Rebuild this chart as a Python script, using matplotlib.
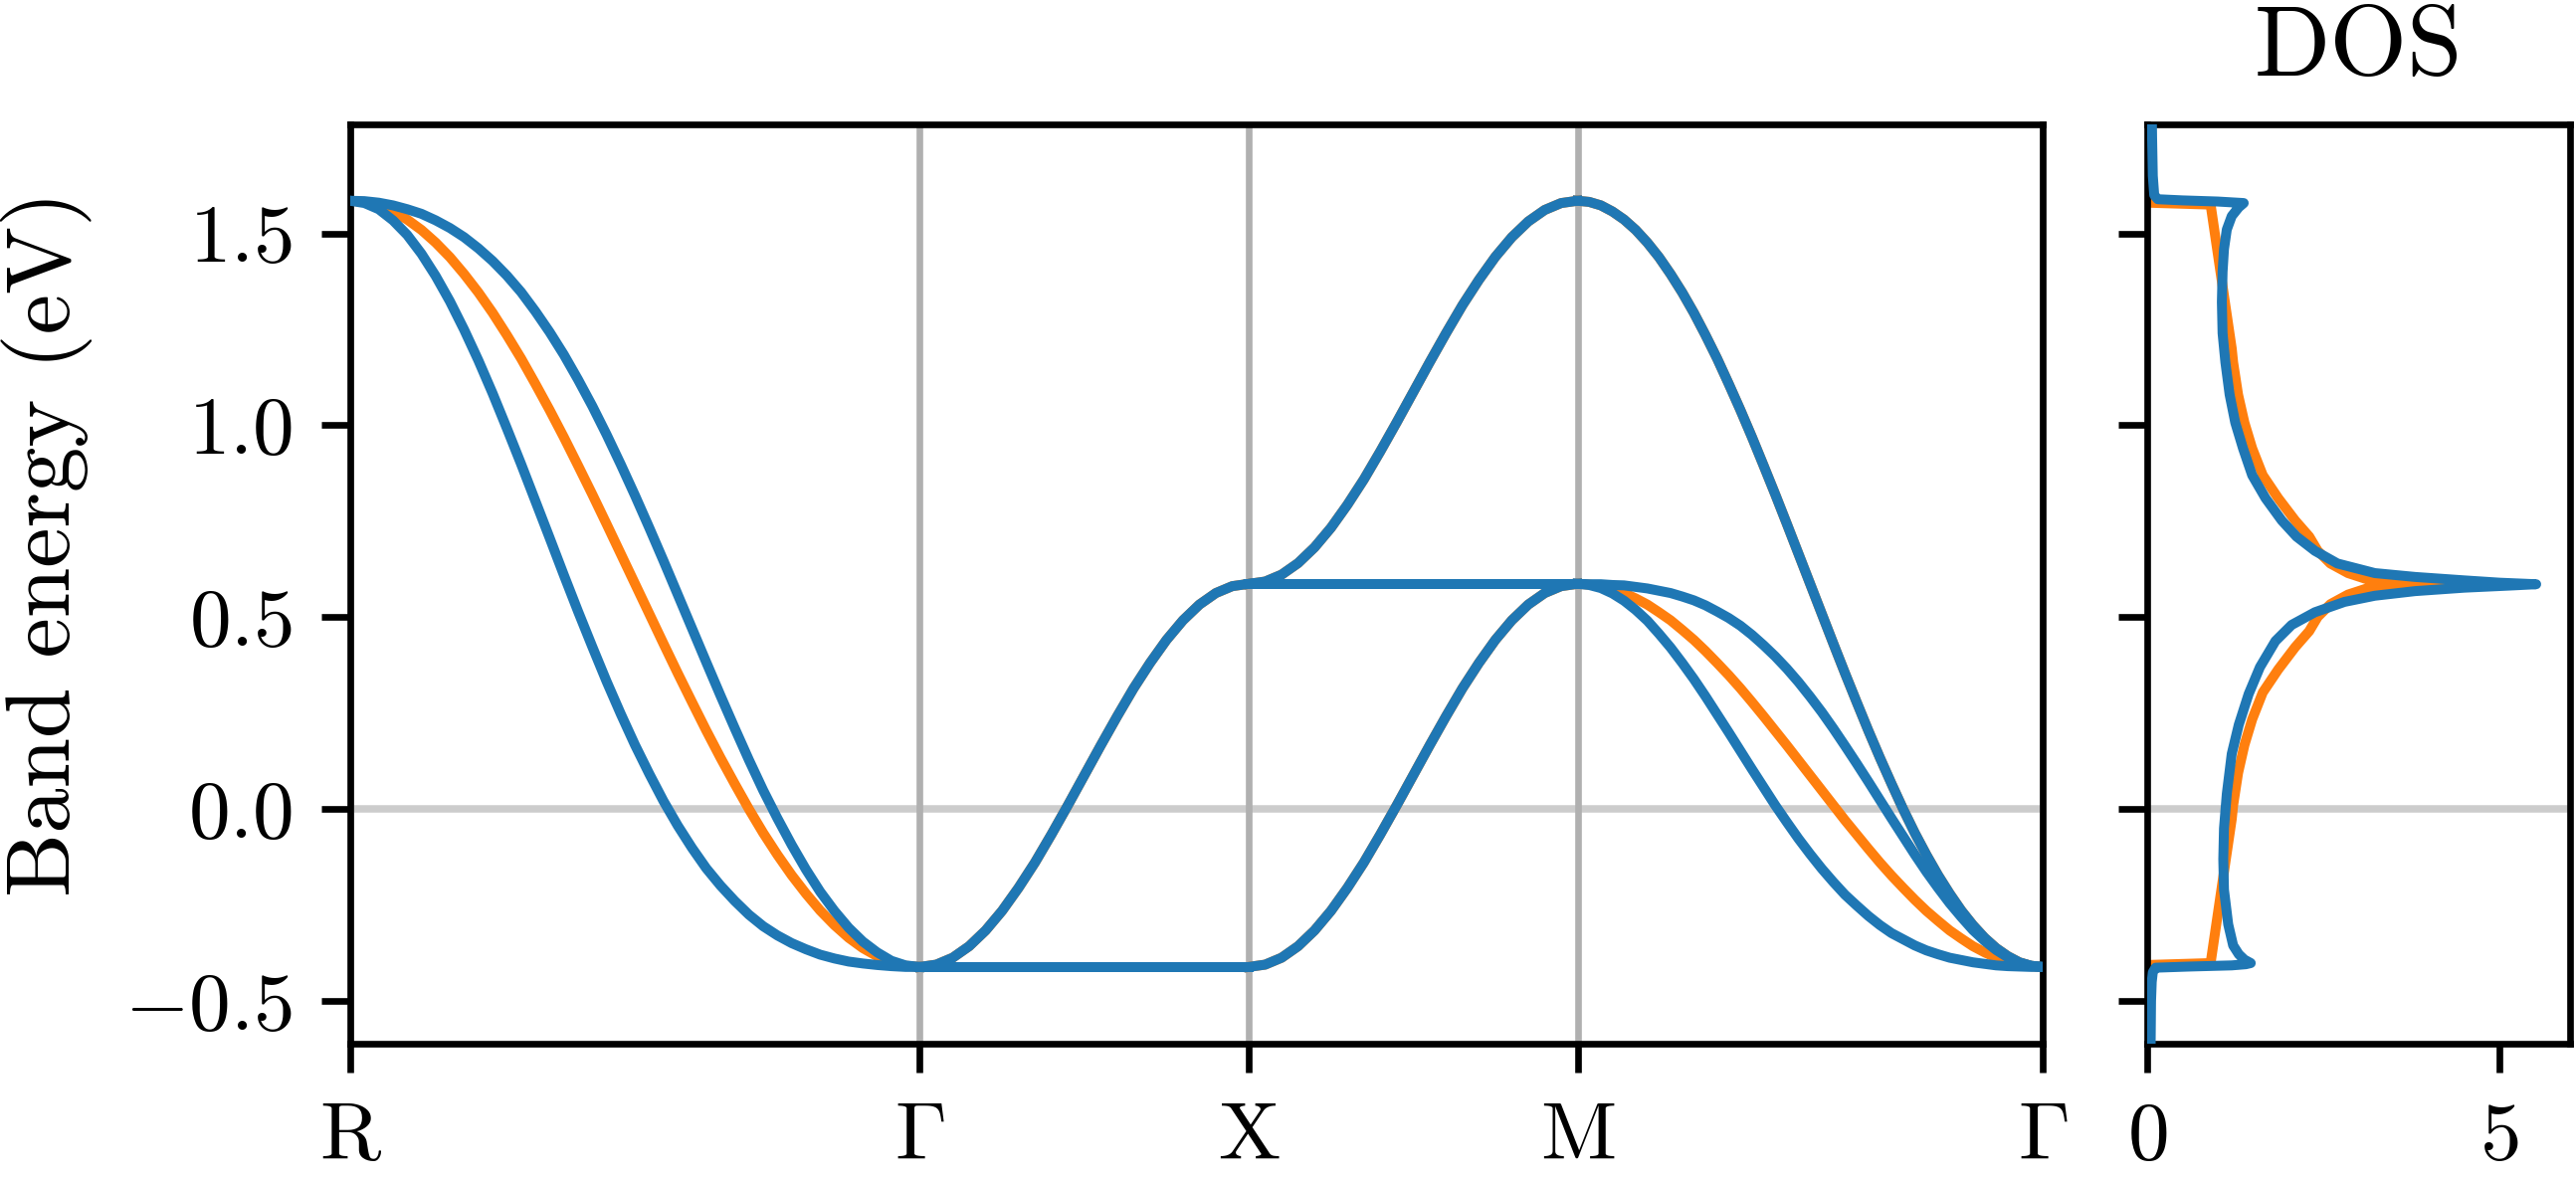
import numpy as np
import matplotlib
matplotlib.use("Agg")
import matplotlib.pyplot as plt

# ---------------- data ----------------
kpoint_labels = [r"$\mathrm{R}$", r"$\Gamma$", r"$\mathrm{X}$", r"$\mathrm{M}$", r"$\Gamma$"]
kpoint_pos = [0.0, 5.441, 8.583, 11.724, 16.167]

# R -> Gamma (41 samples, evenly spaced along the segment)
rg_orange = [1.585, 1.582, 1.573, 1.557, 1.536, 1.509, 1.476, 1.438, 1.394, 1.346,
             1.293, 1.235, 1.174, 1.108, 1.040, 0.969, 0.895, 0.820, 0.743, 0.665,
             0.587, 0.509, 0.431, 0.354, 0.279, 0.205, 0.134, 0.066, 0.000, -0.062,
             -0.119, -0.172, -0.220, -0.264, -0.302, -0.335, -0.362, -0.383, -0.399, -0.408,
             -0.411]
rg_blue_up = [1.585, 1.584, 1.580, 1.573, 1.563, 1.551, 1.534, 1.514, 1.490, 1.461,
              1.428, 1.390, 1.347, 1.297, 1.243, 1.184, 1.119, 1.050, 0.976, 0.898,
              0.817, 0.733, 0.647, 0.559, 0.471, 0.383, 0.296, 0.211, 0.128, 0.049,
              -0.024, -0.093, -0.157, -0.215, -0.265, -0.309, -0.345, -0.373, -0.395, -0.407,
              -0.411]
rg_blue_lo = [1.585, 1.579, 1.563, 1.534, 1.496, 1.447, 1.389, 1.323, 1.249, 1.169,
              1.083, 0.992, 0.899, 0.803, 0.707, 0.610, 0.515, 0.423, 0.333, 0.248,
              0.167, 0.092, 0.021, -0.043, -0.101, -0.154, -0.199, -0.239, -0.275, -0.305,
              -0.329, -0.349, -0.365, -0.379, -0.389, -0.397, -0.402, -0.406, -0.409, -0.411,
              -0.411]

# Gamma -> X (21 samples)
gx_rise = [-0.411, -0.405, -0.387, -0.357, -0.316, -0.265, -0.205, -0.139, -0.066, 0.010,
           0.088, 0.166, 0.242, 0.315, 0.381, 0.441, 0.492, 0.533, 0.563, 0.581, 0.587]
gx_flat = [-0.411] * 21

# X -> M (21 samples)
xm_up = [0.587, 0.593, 0.611, 0.641, 0.682, 0.733, 0.793, 0.859, 0.932, 1.008,
         1.086, 1.164, 1.240, 1.313, 1.379, 1.439, 1.490, 1.531, 1.561, 1.579, 1.585]
xm_flat = [0.587] * 21
xm_lo = [-0.411, -0.405, -0.387, -0.357, -0.316, -0.265, -0.205, -0.139, -0.066, 0.010,
         0.088, 0.166, 0.242, 0.315, 0.381, 0.441, 0.492, 0.533, 0.563, 0.581, 0.587]

# M -> Gamma (41 samples)
mg_xy = [1.585, 1.582, 1.573, 1.557, 1.536, 1.509, 1.476, 1.438, 1.394, 1.346,
         1.293, 1.235, 1.174, 1.108, 1.040, 0.969, 0.895, 0.820, 0.743, 0.665,
         0.587, 0.509, 0.431, 0.354, 0.279, 0.205, 0.134, 0.066, 0.000, -0.062,
         -0.119, -0.172, -0.220, -0.264, -0.302, -0.335, -0.362, -0.383, -0.399, -0.408,
         -0.411]
mg_orange = [0.587, 0.585, 0.581, 0.573, 0.563, 0.549, 0.533, 0.513, 0.492, 0.467,
             0.441, 0.412, 0.381, 0.349, 0.315, 0.279, 0.242, 0.204, 0.166, 0.127,
             0.088, 0.049, 0.010, -0.029, -0.066, -0.103, -0.139, -0.173, -0.205, -0.236,
             -0.265, -0.291, -0.316, -0.337, -0.357, -0.373, -0.387, -0.397, -0.405, -0.409,
             -0.411]
mg_blue_up = [0.587, 0.586, 0.586, 0.584, 0.583, 0.579, 0.575, 0.569, 0.563, 0.554,
              0.544, 0.531, 0.515, 0.498, 0.478, 0.454, 0.427, 0.398, 0.366, 0.331,
              0.293, 0.253, 0.210, 0.165, 0.119, 0.072, 0.024, -0.024, -0.071, -0.118,
              -0.163, -0.205, -0.245, -0.281, -0.315, -0.343, -0.367, -0.386, -0.400, -0.408,
              -0.411]
mg_blue_lo = [0.587, 0.584, 0.576, 0.562, 0.543, 0.519, 0.491, 0.457, 0.421, 0.381,
              0.339, 0.294, 0.247, 0.200, 0.152, 0.104, 0.057, 0.010, -0.034, -0.077,
              -0.117, -0.155, -0.190, -0.223, -0.251, -0.278, -0.302, -0.323, -0.339, -0.355,
              -0.368, -0.378, -0.387, -0.393, -0.399, -0.403, -0.407, -0.409, -0.410, -0.411,
              -0.411]

# DOS (energy, value)
dos_blue_E = [-0.75, -0.60, -0.50, -0.45, -0.425, -0.413, -0.410, -0.407, -0.404, -0.401,
              -0.392, -0.378, -0.355, -0.30, -0.21, -0.13, -0.05, 0.04, 0.144, 0.22,
              0.30, 0.37, 0.438, 0.48, 0.513, 0.540, 0.556, 0.568, 0.577, 0.583, 0.586,
              0.590, 0.596, 0.605, 0.615, 0.640, 0.673, 0.710, 0.752, 0.81, 0.870, 0.94,
              1.007, 1.08, 1.164, 1.24, 1.321, 1.40, 1.459, 1.51, 1.545, 1.568, 1.579,
              1.583, 1.586, 1.589, 1.600, 1.65, 1.75, 1.90]
dos_blue = [0.045, 0.05, 0.055, 0.065, 0.08, 0.12, 0.6, 1.2, 1.40, 1.47,
            1.38, 1.30, 1.22, 1.15, 1.09, 1.08, 1.09, 1.13, 1.20, 1.30,
            1.44, 1.60, 1.82, 2.05, 2.38, 2.80, 3.23, 3.8, 4.5, 5.2, 5.52,
            5.0, 4.5, 3.8, 3.23, 2.70, 2.38, 2.12, 1.91, 1.68, 1.49, 1.36,
            1.25, 1.17, 1.11, 1.07, 1.06, 1.07, 1.09, 1.13, 1.20, 1.30, 1.37,
            1.0, 0.5, 0.15, 0.10, 0.08, 0.07, 0.06]

dos_orange_E = [-0.75, -0.406, -0.401, -0.026, 0.010, 0.094, 0.167, 0.234, 0.304, 0.364,
                0.422, 0.464, 0.501, 0.534, 0.559, 0.574, 0.582, 0.587, 0.592, 0.600,
                0.615, 0.640, 0.673, 0.710, 0.752, 0.81, 0.87, 0.94, 1.007, 1.08, 1.164,
                1.20, 1.575, 1.580, 1.90]
dos_orange = [0.0, 0.0, 0.90, 1.20, 1.22, 1.29, 1.38, 1.49, 1.64, 1.86,
              2.10, 2.30, 2.42, 2.60, 2.85, 3.10, 3.50, 4.20, 3.50, 3.10,
              2.85, 2.60, 2.42, 2.30, 2.10, 1.86, 1.64, 1.49, 1.38, 1.29, 1.22,
              1.20, 0.90, 0.0, 0.0]

# ---------------- style ----------------
plt.rcParams.update({
    "font.family": "serif",
    "font.serif": ["cmr10"],
    "mathtext.fontset": "cm",
    "axes.formatter.use_mathtext": True,
    "font.size": 10,
})
C_BLUE = "#1f77b4"
C_ORANGE = "#ff7f0e"
LW = 1.2

W, H, DPI = 2589, 1187, 600
fig = plt.figure(figsize=(W / DPI, H / DPI), dpi=DPI)
ax = fig.add_axes([352 / W, 1 - 1049 / H, 1701 / W, 924 / H])
axd = fig.add_axes([2158 / W, 1 - 1049 / H, 425 / W, 924 / H], sharey=ax)


def seg_x(i, n):
    return np.linspace(kpoint_pos[i], kpoint_pos[i + 1], n)


x_rg = seg_x(0, len(rg_orange))
x_gx = seg_x(1, len(gx_rise))
x_xm = seg_x(2, len(xm_up))
x_mg = seg_x(3, len(mg_xy))

for xs, ys in [(x_rg, rg_orange), (x_gx, gx_rise), (x_gx, gx_flat), (x_xm, xm_up),
               (x_xm, xm_flat), (x_xm, xm_lo), (x_mg, mg_xy), (x_mg, mg_orange)]:
    ax.plot(xs, ys, color=C_ORANGE, lw=LW, zorder=2)

for xs, ys in [(x_rg, rg_blue_up), (x_rg, rg_blue_lo), (x_gx, gx_rise), (x_gx, gx_flat),
               (x_xm, xm_up), (x_xm, xm_flat), (x_xm, xm_lo), (x_mg, mg_xy),
               (x_mg, mg_blue_up), (x_mg, mg_blue_lo)]:
    ax.plot(xs, ys, color=C_BLUE, lw=LW, zorder=3)

ax.axhline(0, color="#cccccc", lw=0.9, zorder=1)
ax.set_xticks(kpoint_pos)
ax.set_xticklabels(kpoint_labels)
ax.grid(axis="x", color="#b0b0b0", lw=0.8)
ax.set_xlim(kpoint_pos[0], kpoint_pos[-1])
ax.set_ylim(-0.611, 1.784)
ax.set_yticks([-0.5, 0.0, 0.5, 1.0, 1.5])
ax.set_ylabel("Band energy (eV)", fontsize=10.9)
ax.yaxis.set_label_coords(-0.1525, 0.544)

axd.axhline(0, color="#cccccc", lw=0.9, zorder=1)
axd.plot(dos_orange, dos_orange_E, color=C_ORANGE, lw=LW, solid_capstyle="round", zorder=2)
axd.plot(dos_blue, dos_blue_E, color=C_BLUE, lw=LW, solid_capstyle="round", zorder=3)
axd.set_xlim(0, 6)
axd.set_xticks([0, 5])
axd.tick_params(labelleft=False)
axd.set_title("DOS", fontsize=12)

fig.savefig("out.png", dpi=DPI)
